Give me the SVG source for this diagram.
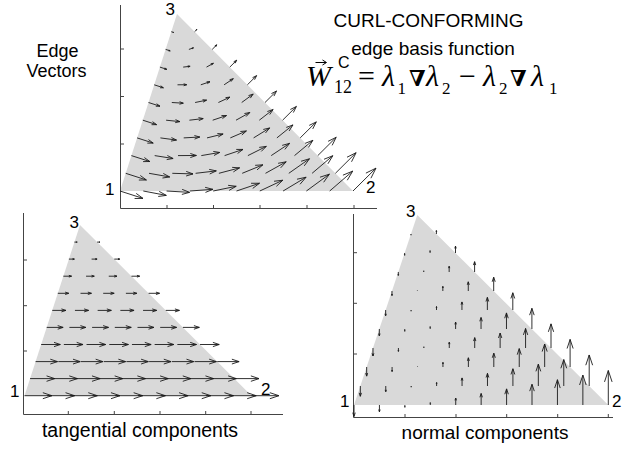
<svg xmlns="http://www.w3.org/2000/svg" width="641" height="451" viewBox="0 0 641 451">
<style>
.tri{fill:#d9d9d9;stroke:none}
.ax{stroke:#444;stroke-width:1;fill:none}
.lbl{font-family:'Liberation Sans',Arial,sans-serif;fill:#000}
.num{font-family:'Liberation Sans',Arial,sans-serif;font-size:17px;fill:#000}
.ser{font-family:'Liberation Serif','DejaVu Serif',serif;fill:#000}
.nab{font-family:'DejaVu Serif',serif;font-weight:bold;fill:#000}
</style>
<defs>
<path id="a" d="M0,0H1M0.67,-0.11L1,0L0.67,0.11" fill="none" stroke="#1a1a1a" stroke-width="0.9" vector-effect="non-scaling-stroke"/>
</defs>
<rect width="641" height="451" fill="#fff"/>

<g id="plot-edge-vectors">
<polygon class="tri" points="120,191 353,191 177,14"/>
<path class="ax" d="M120.5,5V208.5H377M167,208.5V205M213.5,208.5V205M260,208.5V205M307,208.5V205M354,208.5V205M120.5,49H124M120.5,96.5H124M120.5,144H124"/>
<text class="num" x="165.5" y="15">3</text>
<text class="num" x="105" y="195">1</text>
<text class="num" x="366" y="193">2</text>
<g id="arrows-edge">
<use href="#a" transform="matrix(23 7.41 -7.41 23 120 191)"/>
<use href="#a" transform="matrix(23 4.38 -4.38 23 143.3 191)"/>
<use href="#a" transform="matrix(23 1.35 -1.35 23 166.6 191)"/>
<use href="#a" transform="matrix(23 -1.68 1.68 23 189.9 191)"/>
<use href="#a" transform="matrix(23 -4.71 4.71 23 213.2 191)"/>
<use href="#a" transform="matrix(23 -7.74 7.74 23 236.5 191)"/>
<use href="#a" transform="matrix(23 -10.77 10.77 23 259.8 191)"/>
<use href="#a" transform="matrix(23 -13.8 13.8 23 283.1 191)"/>
<use href="#a" transform="matrix(23 -16.83 16.83 23 306.4 191)"/>
<use href="#a" transform="matrix(23 -19.86 19.86 23 329.7 191)"/>
<use href="#a" transform="matrix(23 -22.89 22.89 23 353 191)"/>
<use href="#a" transform="matrix(20.7 6.67 -6.67 20.7 125.7 173.3)"/>
<use href="#a" transform="matrix(20.7 3.64 -3.64 20.7 149 173.3)"/>
<use href="#a" transform="matrix(20.7 0.61 -0.61 20.7 172.3 173.3)"/>
<use href="#a" transform="matrix(20.7 -2.42 2.42 20.7 195.6 173.3)"/>
<use href="#a" transform="matrix(20.7 -5.45 5.45 20.7 218.9 173.3)"/>
<use href="#a" transform="matrix(20.7 -8.48 8.48 20.7 242.2 173.3)"/>
<use href="#a" transform="matrix(20.7 -11.51 11.51 20.7 265.5 173.3)"/>
<use href="#a" transform="matrix(20.7 -14.54 14.54 20.7 288.8 173.3)"/>
<use href="#a" transform="matrix(20.7 -17.57 17.57 20.7 312.1 173.3)"/>
<use href="#a" transform="matrix(20.7 -20.6 20.6 20.7 335.4 173.3)"/>
<use href="#a" transform="matrix(18.4 5.93 -5.93 18.4 131.4 155.6)"/>
<use href="#a" transform="matrix(18.4 2.9 -2.9 18.4 154.7 155.6)"/>
<use href="#a" transform="matrix(18.4 -0.13 0.13 18.4 178 155.6)"/>
<use href="#a" transform="matrix(18.4 -3.16 3.16 18.4 201.3 155.6)"/>
<use href="#a" transform="matrix(18.4 -6.19 6.19 18.4 224.6 155.6)"/>
<use href="#a" transform="matrix(18.4 -9.22 9.22 18.4 247.9 155.6)"/>
<use href="#a" transform="matrix(18.4 -12.25 12.25 18.4 271.2 155.6)"/>
<use href="#a" transform="matrix(18.4 -15.28 15.28 18.4 294.5 155.6)"/>
<use href="#a" transform="matrix(18.4 -18.31 18.31 18.4 317.8 155.6)"/>
<use href="#a" transform="matrix(16.1 5.19 -5.19 16.1 137.1 137.9)"/>
<use href="#a" transform="matrix(16.1 2.16 -2.16 16.1 160.4 137.9)"/>
<use href="#a" transform="matrix(16.1 -0.87 0.87 16.1 183.7 137.9)"/>
<use href="#a" transform="matrix(16.1 -3.9 3.9 16.1 207 137.9)"/>
<use href="#a" transform="matrix(16.1 -6.93 6.93 16.1 230.3 137.9)"/>
<use href="#a" transform="matrix(16.1 -9.96 9.96 16.1 253.6 137.9)"/>
<use href="#a" transform="matrix(16.1 -12.99 12.99 16.1 276.9 137.9)"/>
<use href="#a" transform="matrix(16.1 -16.02 16.02 16.1 300.2 137.9)"/>
<use href="#a" transform="matrix(13.8 4.45 -4.45 13.8 142.8 120.2)"/>
<use href="#a" transform="matrix(13.8 1.42 -1.42 13.8 166.1 120.2)"/>
<use href="#a" transform="matrix(13.8 -1.61 1.61 13.8 189.4 120.2)"/>
<use href="#a" transform="matrix(13.8 -4.64 4.64 13.8 212.7 120.2)"/>
<use href="#a" transform="matrix(13.8 -7.67 7.67 13.8 236 120.2)"/>
<use href="#a" transform="matrix(13.8 -10.7 10.7 13.8 259.3 120.2)"/>
<use href="#a" transform="matrix(13.8 -13.73 13.73 13.8 282.6 120.2)"/>
<use href="#a" transform="matrix(11.5 3.71 -3.71 11.5 148.5 102.5)"/>
<use href="#a" transform="matrix(11.5 0.68 -0.68 11.5 171.8 102.5)"/>
<use href="#a" transform="matrix(11.5 -2.35 2.35 11.5 195.1 102.5)"/>
<use href="#a" transform="matrix(11.5 -5.38 5.38 11.5 218.4 102.5)"/>
<use href="#a" transform="matrix(11.5 -8.41 8.41 11.5 241.7 102.5)"/>
<use href="#a" transform="matrix(11.5 -11.44 11.44 11.5 265 102.5)"/>
<use href="#a" transform="matrix(9.2 2.97 -2.97 9.2 154.2 84.8)"/>
<use href="#a" transform="matrix(9.2 -0.06 0.06 9.2 177.5 84.8)"/>
<use href="#a" transform="matrix(9.2 -3.09 3.09 9.2 200.8 84.8)"/>
<use href="#a" transform="matrix(9.2 -6.12 6.12 9.2 224.1 84.8)"/>
<use href="#a" transform="matrix(9.2 -9.15 9.15 9.2 247.4 84.8)"/>
<use href="#a" transform="matrix(6.9 2.23 -2.23 6.9 159.9 67.1)"/>
<use href="#a" transform="matrix(6.9 -0.8 0.8 6.9 183.2 67.1)"/>
<use href="#a" transform="matrix(6.9 -3.83 3.83 6.9 206.5 67.1)"/>
<use href="#a" transform="matrix(6.9 -6.86 6.86 6.9 229.8 67.1)"/>
<use href="#a" transform="matrix(4.6 1.49 -1.49 4.6 165.6 49.4)"/>
<use href="#a" transform="matrix(4.6 -1.54 1.54 4.6 188.9 49.4)"/>
<use href="#a" transform="matrix(4.6 -4.57 4.57 4.6 212.2 49.4)"/>
<use href="#a" transform="matrix(2.3 0.75 -0.75 2.3 171.3 31.7)"/>
<use href="#a" transform="matrix(2.3 -2.28 2.28 2.3 194.6 31.7)"/>
</g>
</g>

<g id="plot-tangential">
<polygon class="tri" points="24.5,395.7 251.5,395.7 80,225"/>
<path class="ax" d="M23.5,213V414.5H283M68.3,414.5V411M114.3,414.5V411M160,414.5V411M205.7,414.5V411M251,414.5V411M23.5,260H27M23.5,305.7H27M23.5,351H27"/>
<text class="num" x="69.5" y="228">3</text>
<text class="num" x="10" y="397">1</text>
<text class="num" x="261" y="395">2</text>
<g id="arrows-tangential">
<use href="#a" transform="matrix(27.4 0 0 27.4 24.5 395.7)"/>
<use href="#a" transform="matrix(27.4 0 0 27.4 47.2 395.7)"/>
<use href="#a" transform="matrix(27.4 0 0 27.4 69.9 395.7)"/>
<use href="#a" transform="matrix(27.4 0 0 27.4 92.6 395.7)"/>
<use href="#a" transform="matrix(27.4 0 0 27.4 115.3 395.7)"/>
<use href="#a" transform="matrix(27.4 0 0 27.4 138 395.7)"/>
<use href="#a" transform="matrix(27.4 0 0 27.4 160.7 395.7)"/>
<use href="#a" transform="matrix(27.4 0 0 27.4 183.4 395.7)"/>
<use href="#a" transform="matrix(27.4 0 0 27.4 206.1 395.7)"/>
<use href="#a" transform="matrix(27.4 0 0 27.4 228.8 395.7)"/>
<use href="#a" transform="matrix(27.4 0 0 27.4 251.5 395.7)"/>
<use href="#a" transform="matrix(24.66 0 0 24.66 30.05 378.6)"/>
<use href="#a" transform="matrix(24.66 0 0 24.66 52.75 378.6)"/>
<use href="#a" transform="matrix(24.66 0 0 24.66 75.45 378.6)"/>
<use href="#a" transform="matrix(24.66 0 0 24.66 98.15 378.6)"/>
<use href="#a" transform="matrix(24.66 0 0 24.66 120.85 378.6)"/>
<use href="#a" transform="matrix(24.66 0 0 24.66 143.55 378.6)"/>
<use href="#a" transform="matrix(24.66 0 0 24.66 166.25 378.6)"/>
<use href="#a" transform="matrix(24.66 0 0 24.66 188.95 378.6)"/>
<use href="#a" transform="matrix(24.66 0 0 24.66 211.65 378.6)"/>
<use href="#a" transform="matrix(24.66 0 0 24.66 234.35 378.6)"/>
<use href="#a" transform="matrix(21.92 0 0 21.92 35.6 361.6)"/>
<use href="#a" transform="matrix(21.92 0 0 21.92 58.3 361.6)"/>
<use href="#a" transform="matrix(21.92 0 0 21.92 81 361.6)"/>
<use href="#a" transform="matrix(21.92 0 0 21.92 103.7 361.6)"/>
<use href="#a" transform="matrix(21.92 0 0 21.92 126.4 361.6)"/>
<use href="#a" transform="matrix(21.92 0 0 21.92 149.1 361.6)"/>
<use href="#a" transform="matrix(21.92 0 0 21.92 171.8 361.6)"/>
<use href="#a" transform="matrix(21.92 0 0 21.92 194.5 361.6)"/>
<use href="#a" transform="matrix(21.92 0 0 21.92 217.2 361.6)"/>
<use href="#a" transform="matrix(19.18 0 0 19.18 41.15 344.5)"/>
<use href="#a" transform="matrix(19.18 0 0 19.18 63.85 344.5)"/>
<use href="#a" transform="matrix(19.18 0 0 19.18 86.55 344.5)"/>
<use href="#a" transform="matrix(19.18 0 0 19.18 109.25 344.5)"/>
<use href="#a" transform="matrix(19.18 0 0 19.18 131.95 344.5)"/>
<use href="#a" transform="matrix(19.18 0 0 19.18 154.65 344.5)"/>
<use href="#a" transform="matrix(19.18 0 0 19.18 177.35 344.5)"/>
<use href="#a" transform="matrix(19.18 0 0 19.18 200.05 344.5)"/>
<use href="#a" transform="matrix(16.44 0 0 16.44 46.7 327.4)"/>
<use href="#a" transform="matrix(16.44 0 0 16.44 69.4 327.4)"/>
<use href="#a" transform="matrix(16.44 0 0 16.44 92.1 327.4)"/>
<use href="#a" transform="matrix(16.44 0 0 16.44 114.8 327.4)"/>
<use href="#a" transform="matrix(16.44 0 0 16.44 137.5 327.4)"/>
<use href="#a" transform="matrix(16.44 0 0 16.44 160.2 327.4)"/>
<use href="#a" transform="matrix(16.44 0 0 16.44 182.9 327.4)"/>
<use href="#a" transform="matrix(13.7 0 0 13.7 52.25 310.4)"/>
<use href="#a" transform="matrix(13.7 0 0 13.7 74.95 310.4)"/>
<use href="#a" transform="matrix(13.7 0 0 13.7 97.65 310.4)"/>
<use href="#a" transform="matrix(13.7 0 0 13.7 120.35 310.4)"/>
<use href="#a" transform="matrix(13.7 0 0 13.7 143.05 310.4)"/>
<use href="#a" transform="matrix(13.7 0 0 13.7 165.75 310.4)"/>
<use href="#a" transform="matrix(10.96 0 0 10.96 57.8 293.3)"/>
<use href="#a" transform="matrix(10.96 0 0 10.96 80.5 293.3)"/>
<use href="#a" transform="matrix(10.96 0 0 10.96 103.2 293.3)"/>
<use href="#a" transform="matrix(10.96 0 0 10.96 125.9 293.3)"/>
<use href="#a" transform="matrix(10.96 0 0 10.96 148.6 293.3)"/>
<use href="#a" transform="matrix(8.22 0 0 8.22 63.35 276.2)"/>
<use href="#a" transform="matrix(8.22 0 0 8.22 86.05 276.2)"/>
<use href="#a" transform="matrix(8.22 0 0 8.22 108.75 276.2)"/>
<use href="#a" transform="matrix(8.22 0 0 8.22 131.45 276.2)"/>
<use href="#a" transform="matrix(5.48 0 0 5.48 68.9 259.1)"/>
<use href="#a" transform="matrix(5.48 0 0 5.48 91.6 259.1)"/>
<use href="#a" transform="matrix(5.48 0 0 5.48 114.3 259.1)"/>
<use href="#a" transform="matrix(2.74 0 0 2.74 74.45 242.1)"/>
<use href="#a" transform="matrix(2.74 0 0 2.74 97.15 242.1)"/>
</g>
</g>

<g id="plot-normal">
<polygon class="tri" points="354,405 608.3,405 417.3,215"/>
<path class="ax" d="M353.5,214V417.5H613M405,417.5V414M456,417.5V414M506.7,417.5V414M557.7,417.5V414M608.3,417.5V414M353.5,252.7H357M353.5,303.3H357M353.5,354H357"/>
<text class="num" x="406" y="217">3</text>
<text class="num" x="340" y="407">1</text>
<text class="num" x="612" y="407">2</text>
<g id="arrows-normal">
<use href="#a" transform="matrix(0 11.43 -11.43 0 354 405)"/>
<use href="#a" transform="matrix(0 6.84 -6.84 0 379.43 405)"/>
<use href="#a" transform="matrix(0 2.25 -2.25 0 404.86 405)"/>
<use href="#a" transform="matrix(0 -2.34 2.34 0 430.29 405)"/>
<use href="#a" transform="matrix(0 -6.93 6.93 0 455.72 405)"/>
<use href="#a" transform="matrix(0 -11.52 11.52 0 481.15 405)"/>
<use href="#a" transform="matrix(0 -16.11 16.11 0 506.58 405)"/>
<use href="#a" transform="matrix(0 -20.7 20.7 0 532.01 405)"/>
<use href="#a" transform="matrix(0 -25.29 25.29 0 557.44 405)"/>
<use href="#a" transform="matrix(0 -29.88 29.88 0 582.87 405)"/>
<use href="#a" transform="matrix(0 -34.47 34.47 0 608.3 405)"/>
<use href="#a" transform="matrix(0 10.29 -10.29 0 360.33 386)"/>
<use href="#a" transform="matrix(0 5.7 -5.7 0 385.76 386)"/>
<use href="#a" transform="matrix(0 1.11 -1.11 0 411.19 386)"/>
<use href="#a" transform="matrix(0 -3.48 3.48 0 436.62 386)"/>
<use href="#a" transform="matrix(0 -8.07 8.07 0 462.05 386)"/>
<use href="#a" transform="matrix(0 -12.66 12.66 0 487.48 386)"/>
<use href="#a" transform="matrix(0 -17.25 17.25 0 512.91 386)"/>
<use href="#a" transform="matrix(0 -21.84 21.84 0 538.34 386)"/>
<use href="#a" transform="matrix(0 -26.43 26.43 0 563.77 386)"/>
<use href="#a" transform="matrix(0 -31.02 31.02 0 589.2 386)"/>
<use href="#a" transform="matrix(0 9.14 -9.14 0 366.66 367)"/>
<use href="#a" transform="matrix(0 4.55 -4.55 0 392.09 367)"/>
<use href="#a" transform="matrix(0 -0.4 0.4 0 417.52 367)"/>
<use href="#a" transform="matrix(0 -4.63 4.63 0 442.95 367)"/>
<use href="#a" transform="matrix(0 -9.22 9.22 0 468.38 367)"/>
<use href="#a" transform="matrix(0 -13.81 13.81 0 493.81 367)"/>
<use href="#a" transform="matrix(0 -18.4 18.4 0 519.24 367)"/>
<use href="#a" transform="matrix(0 -22.99 22.99 0 544.67 367)"/>
<use href="#a" transform="matrix(0 -27.58 27.58 0 570.1 367)"/>
<use href="#a" transform="matrix(0 8 -8 0 372.99 348)"/>
<use href="#a" transform="matrix(0 3.41 -3.41 0 398.42 348)"/>
<use href="#a" transform="matrix(0 -1.18 1.18 0 423.85 348)"/>
<use href="#a" transform="matrix(0 -5.77 5.77 0 449.28 348)"/>
<use href="#a" transform="matrix(0 -10.36 10.36 0 474.71 348)"/>
<use href="#a" transform="matrix(0 -14.95 14.95 0 500.14 348)"/>
<use href="#a" transform="matrix(0 -19.54 19.54 0 525.57 348)"/>
<use href="#a" transform="matrix(0 -24.13 24.13 0 551 348)"/>
<use href="#a" transform="matrix(0 6.86 -6.86 0 379.32 329)"/>
<use href="#a" transform="matrix(0 2.27 -2.27 0 404.75 329)"/>
<use href="#a" transform="matrix(0 -2.32 2.32 0 430.18 329)"/>
<use href="#a" transform="matrix(0 -6.91 6.91 0 455.61 329)"/>
<use href="#a" transform="matrix(0 -11.5 11.5 0 481.04 329)"/>
<use href="#a" transform="matrix(0 -16.09 16.09 0 506.47 329)"/>
<use href="#a" transform="matrix(0 -20.68 20.68 0 531.9 329)"/>
<use href="#a" transform="matrix(0 5.72 -5.72 0 385.65 310)"/>
<use href="#a" transform="matrix(0 1.13 -1.13 0 411.08 310)"/>
<use href="#a" transform="matrix(0 -3.46 3.46 0 436.51 310)"/>
<use href="#a" transform="matrix(0 -8.05 8.05 0 461.94 310)"/>
<use href="#a" transform="matrix(0 -12.64 12.64 0 487.37 310)"/>
<use href="#a" transform="matrix(0 -17.23 17.23 0 512.8 310)"/>
<use href="#a" transform="matrix(0 4.57 -4.57 0 391.98 291)"/>
<use href="#a" transform="matrix(0 -0.4 0.4 0 417.41 291)"/>
<use href="#a" transform="matrix(0 -4.61 4.61 0 442.84 291)"/>
<use href="#a" transform="matrix(0 -9.2 9.2 0 468.27 291)"/>
<use href="#a" transform="matrix(0 -13.79 13.79 0 493.7 291)"/>
<use href="#a" transform="matrix(0 3.43 -3.43 0 398.31 272)"/>
<use href="#a" transform="matrix(0 -1.16 1.16 0 423.74 272)"/>
<use href="#a" transform="matrix(0 -5.75 5.75 0 449.17 272)"/>
<use href="#a" transform="matrix(0 -10.34 10.34 0 474.6 272)"/>
<use href="#a" transform="matrix(0 2.29 -2.29 0 404.64 253)"/>
<use href="#a" transform="matrix(0 -2.3 2.3 0 430.07 253)"/>
<use href="#a" transform="matrix(0 -6.89 6.89 0 455.5 253)"/>
<use href="#a" transform="matrix(0 1.14 -1.14 0 410.97 234)"/>
<use href="#a" transform="matrix(0 -3.45 3.45 0 436.4 234)"/>
</g>
</g>

<g id="titles">
<text class="lbl" x="57.5" y="57" font-size="18" text-anchor="middle">Edge</text>
<text class="lbl" x="56.5" y="77" font-size="18" text-anchor="middle">Vectors</text>
<text class="lbl" x="428.5" y="27" font-size="19" text-anchor="middle">CURL-CONFORMING</text>
<text class="lbl" x="433" y="55" font-size="19" text-anchor="middle">edge basis function</text>
<text class="lbl" x="140" y="437" font-size="19.5" text-anchor="middle">tangential components</text>
<text class="lbl" x="485" y="439" font-size="19" text-anchor="middle">normal components</text>
</g>

<g id="formula">
<text class="ser" x="306" y="86" font-size="30" font-style="italic">W</text>
<path d="M315.5,62.5H326M322.5,60L326.5,62.5L322.5,65" fill="none" stroke="#000" stroke-width="1"/>
<text class="ser" x="334" y="93" font-size="18">12</text>
<text class="lbl" x="338" y="68" font-size="16">C</text>
<text class="ser" x="358" y="86" font-size="30">=</text>
<text class="ser" x="382" y="86" font-size="30" font-style="italic">λ</text>
<text class="ser" x="397.5" y="94" font-size="17">1</text>
<text class="nab" x="409" y="86" font-size="22">∇</text>
<text class="ser" x="426" y="86" font-size="30" font-style="italic">λ</text>
<text class="ser" x="442" y="94" font-size="17">2</text>
<text class="ser" x="459" y="86" font-size="30">−</text>
<text class="ser" x="483" y="86" font-size="30" font-style="italic">λ</text>
<text class="ser" x="499" y="94" font-size="17">2</text>
<text class="nab" x="510" y="86" font-size="22">∇</text>
<text class="ser" x="531" y="86" font-size="30" font-style="italic">λ</text>
<text class="ser" x="549" y="94" font-size="17">1</text>
</g>
</svg>
